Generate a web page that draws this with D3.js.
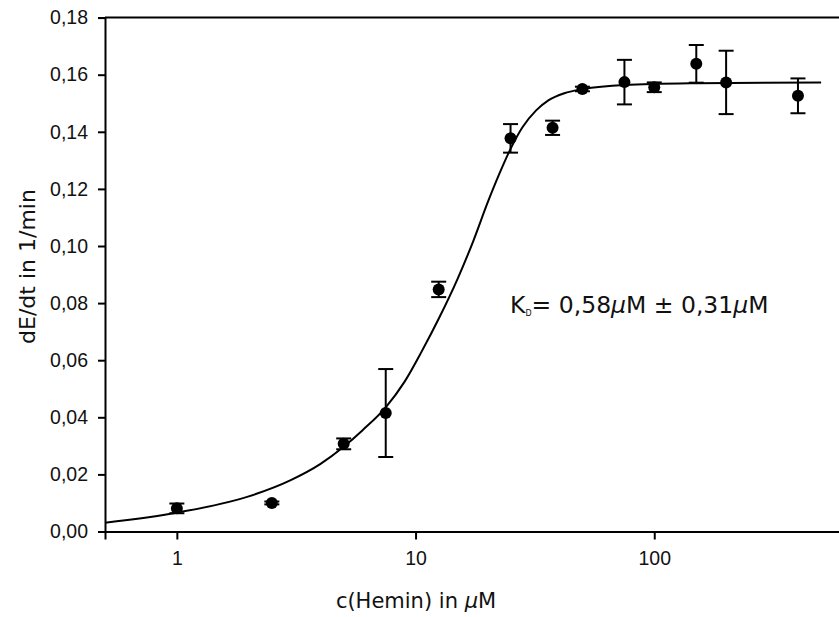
<!DOCTYPE html>
<html>
<head>
<meta charset="utf-8">
<script src="https://cdn.jsdelivr.net/npm/d3@7"></script>
<style>
  html, body { margin: 0; padding: 0; background: #fff; }
  svg { display: block; }
</style>
</head>
<body>
<div id="chart"></div>
<script>
// ---- data ----
const concentrations = [1, 2.5, 5, 7.5, 12.5, 25, 37.5, 50, 75, 100, 150, 200, 400];
const rates          = [0.0081, 0.0100, 0.0307, 0.0415, 0.0848, 0.1377, 0.1414, 0.1550, 0.1574, 0.1556, 0.1638, 0.1573, 0.1526];
const rateErrors     = [0.0017, 0.0005, 0.0019, 0.0154, 0.0027, 0.0050, 0.0025, 0.0008, 0.0078, 0.0017, 0.0066, 0.0111, 0.0061];

// fitted curve
const fitX = [0.5, 1, 2, 3, 4, 5, 6, 7.5, 9, 10.6, 12.5, 15, 17.5, 20, 22.5, 25, 28, 32, 36, 42, 50, 75, 150, 500];
const fitY = [0.0031, 0.0066, 0.0123, 0.0180, 0.0237, 0.0297, 0.0355, 0.0435, 0.0525, 0.0630, 0.0745, 0.0885, 0.1020, 0.1150, 0.1255, 0.1340, 0.1415, 0.1475, 0.1510, 0.1535, 0.1549, 0.1564, 0.1570, 0.1573];

const xTicks = [1, 10, 100];
const yTicks = [0, 0.02, 0.04, 0.06, 0.08, 0.10, 0.12, 0.14, 0.16, 0.18];

// ---- layout ----
const W = 839, H = 617;
const mLeft = 105, mRight = 840, mTop = 17.6, mBottom = 531.5;

const svg = d3.select("#chart").append("svg")
  .attr("width", W).attr("height", H);

const x = d3.scaleLog().domain([0.5, 600]).range([mLeft, mRight]);
const y = d3.scaleLinear().domain([0, 0.18]).range([mBottom, mTop]);

const tickFont = "'Liberation Sans', Arial, sans-serif";
const titleFont = "'DejaVu Sans', 'Liberation Sans', sans-serif";

// top frame line
svg.append("line")
  .attr("x1", mLeft).attr("x2", mRight)
  .attr("y1", y(0.18)).attr("y2", y(0.18))
  .attr("stroke", "#000").attr("stroke-width", 2);

// y axis
const yAxis = svg.append("g")
  .attr("transform", `translate(${mLeft},0)`)
  .call(d3.axisLeft(y).tickValues(yTicks).tickSize(7).tickPadding(10)
    .tickFormat(d => d3.format(".2f")(d).replace(".", ",")));
yAxis.select(".domain").attr("stroke", "#000").attr("stroke-width", 2);
yAxis.selectAll(".tick line").attr("stroke", "#000").attr("stroke-width", 2);
yAxis.selectAll(".tick text").attr("font-family", tickFont).attr("font-size", 19.5).attr("fill", "#111");

// x axis
const xAxis = svg.append("g")
  .attr("transform", `translate(0,${mBottom})`)
  .call(d3.axisBottom(x).tickValues(xTicks).tickSize(8).tickPadding(12)
    .tickFormat(d3.format("d")));
xAxis.select(".domain").attr("stroke", "#000").attr("stroke-width", 2);
xAxis.selectAll(".tick line").attr("stroke", "#000").attr("stroke-width", 2);
xAxis.selectAll(".tick text").attr("font-family", tickFont).attr("font-size", 19.5).attr("fill", "#111");

// fitted curve
const fitData = fitX.map((v, i) => [v, fitY[i]]);
svg.append("path")
  .datum(fitData)
  .attr("fill", "none")
  .attr("stroke", "#000")
  .attr("stroke-width", 2)
  .attr("d", d3.line().x(d => x(d[0])).y(d => y(d[1])).curve(d3.curveMonotoneX));

// error bars
const pts = concentrations.map((c, i) => ({c, v: rates[i], e: rateErrors[i]}));
const eb = svg.append("g").attr("stroke", "#000").attr("stroke-width", 2);
const capW = 7.5;
pts.forEach(p => {
  const cx = x(p.c);
  eb.append("line").attr("x1", cx).attr("x2", cx).attr("y1", y(p.v - p.e)).attr("y2", y(p.v + p.e));
  eb.append("line").attr("x1", cx - capW).attr("x2", cx + capW).attr("y1", y(p.v + p.e)).attr("y2", y(p.v + p.e));
  eb.append("line").attr("x1", cx - capW).attr("x2", cx + capW).attr("y1", y(p.v - p.e)).attr("y2", y(p.v - p.e));
});

// points
svg.append("g").selectAll("circle").data(pts).join("circle")
  .attr("cx", d => x(d.c)).attr("cy", d => y(d.v)).attr("r", 6).attr("fill", "#000");

// annotation
const ann = svg.append("text")
  .attr("x", 510).attr("y", 313)
  .attr("font-family", titleFont).attr("font-size", 23.5).attr("fill", "#111");
ann.append("tspan").text("K");
ann.append("tspan").attr("font-size", 8).attr("dy", 3).text("D");
ann.append("tspan").attr("dy", -3).text("= 0,58");
ann.append("tspan").attr("font-style", "italic").text("µ");
ann.append("tspan").text("M ± 0,31");
ann.append("tspan").attr("font-style", "italic").text("µ");
ann.append("tspan").text("M");

// axis titles
const xt = svg.append("text")
  .attr("x", 416).attr("y", 608)
  .attr("text-anchor", "middle")
  .attr("font-family", titleFont).attr("font-size", 21).attr("fill", "#111");
xt.append("tspan").text("c(Hemin) in ");
xt.append("tspan").attr("font-style", "italic").text("µ");
xt.append("tspan").text("M");

svg.append("text")
  .attr("transform", "translate(35,266.5) rotate(-90)")
  .attr("text-anchor", "middle")
  .attr("font-family", titleFont).attr("font-size", 22).attr("fill", "#111")
  .text("dE/dt in 1/min");
</script>
</body>
</html>
